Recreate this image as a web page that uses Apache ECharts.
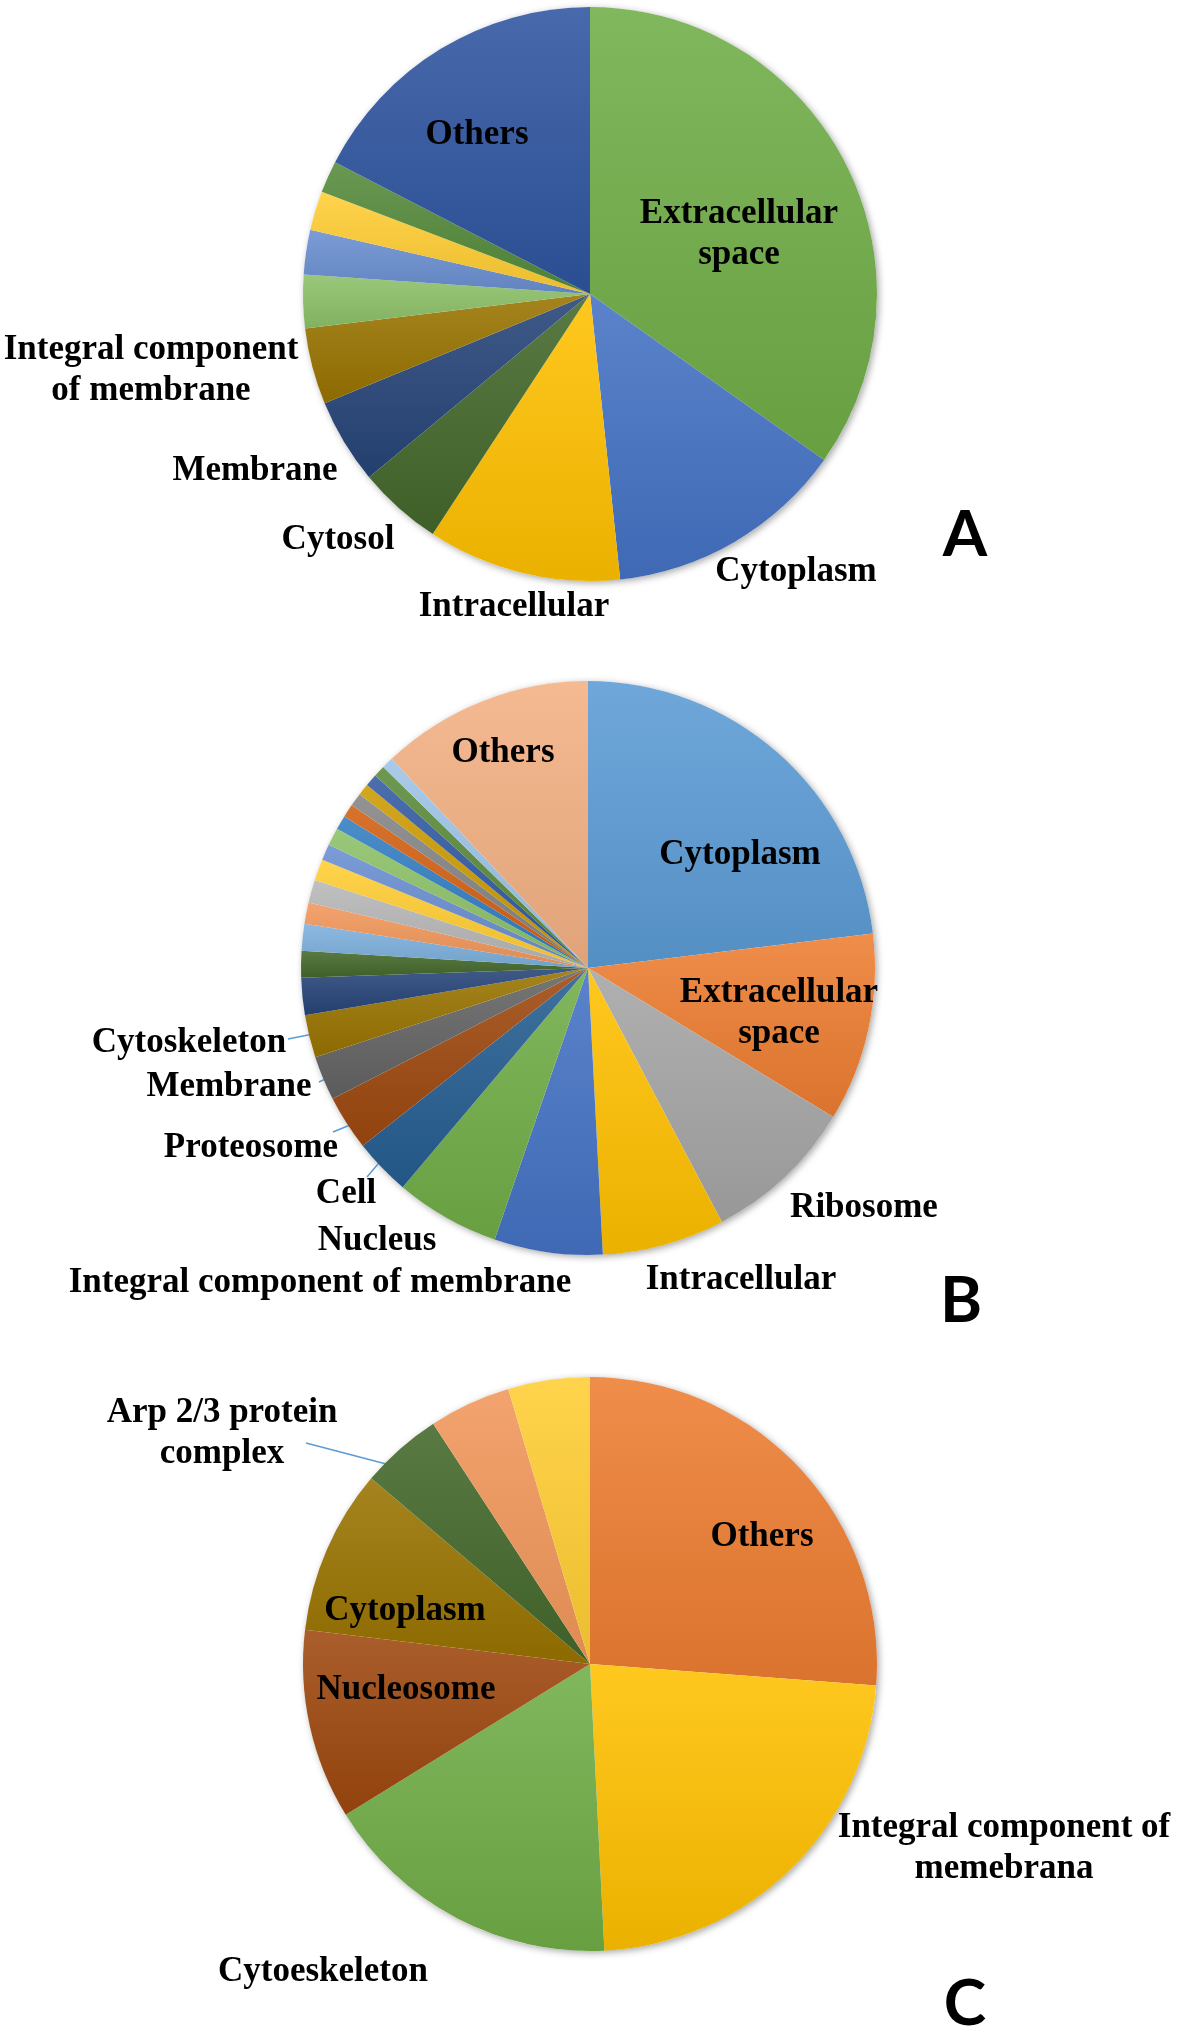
<!DOCTYPE html>
<html>
<head>
<meta charset="utf-8">
<script src="https://cdn.jsdelivr.net/npm/echarts@6/dist/echarts.min.js"></script>
<style>
	html,body{margin:0;padding:0;background:#fff;}
	#chart{width:1181px;height:2031px;}
</style>
</head>
<body>
<div id="chart"></div>
<script>
// ---- data (percent of proteins) ----
var catA = ['Extracellular space','Cytoplasm','Intracellular','Cytosol','Membrane',
	'Integral component of membrane','a7','a8','a9','a10','Others'];
var valA = [34.8,13.5,10.9,4.75,4.8,4.3,3.0,2.5,2.2,1.8,17.4];

var catB = ['Cytoplasm','Extracellular space','Ribosome','Intracellular',
	'Integral component of membrane','Nucleus','Cell','Proteosome','Membrane','Cytoskeleton',
	'b11','b12','b13','b14','b15','b16','b17','b18','b19','b20','b21','b22','b23','b24','b25','Others'];
var valB = [23.1,10.6,8.6,6.9,6.1,5.9,3.2,3.1,2.5,2.4,
	2.1,1.5,1.5,1.2,1.3,1.2,0.9,1.0,0.8,0.75,0.75,0.65,0.7,0.65,0.65,12.0];

var catC = ['Others','Integral component of memebrana','Cytoeskeleton','Nucleosome',
	'Cytoplasm','Arp 2/3 protein complex','c7','c8'];
var valC = [26.2,23.0,17.0,10.7,9.3,4.6,4.6,4.6];

// ---- styles ----
var colA = ['#70AD47','#4472C4','#FFC000','#43682B','#264478','#997300','#8CC168','#698ED0','#FFCD33','#548A3A','#2F55A0'];
var colB = ['#5B9BD5','#ED7D31','#A5A5A5','#FFC000','#4472C4','#70AD47','#255E91','#9E480E','#636363','#997300',
	'#264478','#43682B','#7CAFDD','#F1975A','#B7B7B7','#FFCD33','#698ED0','#8CC168','#327DC2','#D26012',
	'#848484','#CC9A00','#335AA1','#5A8A39','#9DC3E6','#F4B183'];
var colC = ['#ED7D31','#FFC000','#70AD47','#9E480E','#997300','#43682B','#F1975A','#FFCD33'];

var R = 287;
var centers = [[590,294],[588,968],[590,1664]];

// label text with line breaks
var wrap = {
	'Extracellular space':'Extracellular\nspace',
	'Integral component of membrane#0':'Integral component\nof membrane',
	'Integral component of memebrana':'Integral component of\nmemebrana',
	'Arp 2/3 protein complex':'Arp 2/3 protein\ncomplex'
};
// label anchor points (centre of text)
var labelPos = [
	{'Extracellular space':[739,230],'Cytoplasm':[796,568],'Intracellular':[514,603],'Cytosol':[338,536],
	 'Membrane':[255,467],'Integral component of membrane':[151,366],'Others':[477,131]},
	{'Cytoplasm':[740,851],'Extracellular space':[779,1009],'Ribosome':[864,1204],'Intracellular':[741,1276],
	 'Integral component of membrane':[320,1279],'Nucleus':[377,1237],'Cell':[346,1190],'Proteosome':[251,1144],
	 'Membrane':[229,1083],'Cytoskeleton':[189,1039],'Others':[503,749]},
	{'Others':[762,1533],'Integral component of memebrana':[1004,1844],'Cytoeskeleton':[323,1968],
	 'Nucleosome':[406,1686],'Cytoplasm':[405,1607],'Arp 2/3 protein complex':[222,1429]}
];
var labelDy = 4;
var leaders = [
	{},
	{'Cytoskeleton':[[288,1039],[318,1033],[348,1027]],'Membrane':[[319,1082],[334,1075],[348,1068]],
	 'Proteosome':[[333,1132],[350,1125],[367,1118]],'Cell':[[367,1177],[378,1164],[390,1151]]},
	{'Arp 2/3 protein complex':[[306,1443],[348,1454],[390,1465]]}
];

function shade(hex, amt){
	var n = parseInt(hex.slice(1),16), r = n>>16, g = (n>>8)&255, b = n&255;
	function f(c){ return amt>0 ? Math.round(c+(255-c)*amt) : Math.round(c*(1+amt)); }
	return 'rgb('+f(r)+','+f(g)+','+f(b)+')';
}
function grad(hex){
	return new echarts.graphic.LinearGradient(0,0,0,1,[
		{offset:0,color:shade(hex,0.12)},{offset:1,color:shade(hex,-0.08)}]);
}

function buildSeries(idx, cats, vals, cols){
	var pos = labelPos[idx], lead = leaders[idx];
	var data = cats.map(function(name,i){
		var hasLabel = !!pos[name];
		return {
			name:name, value:vals[i],
			itemStyle:{color:grad(cols[i])},
			label:{show:hasLabel},
			labelLine:{show:!!lead[name]}
		};
	});
	return {
		type:'pie',
		center:centers[idx],
		radius:R,
		startAngle:90,
		clockwise:true,
		silent:true,
		avoidLabelOverlap:false,
		data:data,
		itemStyle:{borderWidth:0},
		label:{
			position:'outside',
			overflow:'none',
			color:'#000',
			fontFamily:'Liberation Serif',
			fontWeight:'bold',
			fontSize:35,
			lineHeight:41,
			align:'center',
			formatter:function(p){
				var key = p.name + (idx===0 ? '#0' : '');
				return wrap[key] || wrap[p.name] || p.name;
			}
		},
		labelLine:{lineStyle:{color:'#5B9BD5',width:1.5}},
		labelLayout:function(p){
			var name = cats[p.dataIndex];
			var pt = pos[name];
			if(!pt) return {};
			var o = {x:pt[0], y:pt[1]+labelDy, align:'center', verticalAlign:'middle'};
			if(lead[name]) o.labelLinePoints = lead[name];
			return o;
		}
	};
}

var myChart = echarts.init(document.getElementById('chart'));

var graphics = centers.map(function(c){
	return {type:'circle', z:-1, silent:true,
		shape:{cx:c[0], cy:c[1], r:R},
		style:{fill:'#fff', shadowBlur:7, shadowOffsetX:2, shadowOffsetY:2, shadowColor:'rgba(0,0,0,0.35)'}};
});
var letters = [['A',965,535],['B',961,1301],['C',965,2004]];
letters.forEach(function(l){
	graphics.push({type:'text', silent:true, x:l[1], y:l[2],
		style:{text:l[0], font:'bold 64px Lato', fill:'#000', align:'center', verticalAlign:'middle'}});
});

var option = {
	animation:false,
	backgroundColor:'#fff',
	graphic:graphics,
	series:[
		buildSeries(0, catA, valA, colA),
		buildSeries(1, catB, valB, colB),
		buildSeries(2, catC, valC, colC)
	]
};
myChart.setOption(option);
</script>
</body>
</html>
